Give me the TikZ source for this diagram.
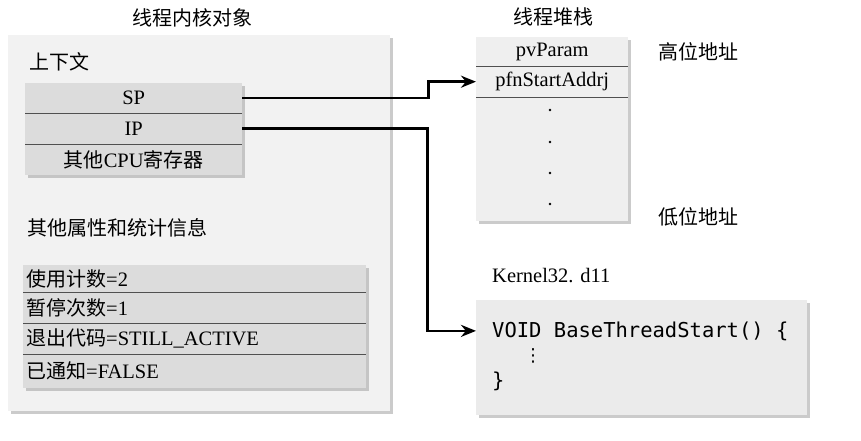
\documentclass[tikz,border=0pt]{standalone}
\usepackage{fontspec}
\setmainfont{Liberation Serif}
\newfontfamily\cjk{Noto Sans CJK SC}
\newfontfamily\codefont{DejaVu Sans Mono}
\newfontfamily\symfont{DejaVu Sans}
\usetikzlibrary{arrows.meta,shadows,calc}
\definecolor{outerfill}{HTML}{F2F2F2}
\definecolor{regfill}{HTML}{DCDCDC}
\definecolor{stackfill}{HTML}{EFEFEF}
\definecolor{codefill}{HTML}{EBEBEB}
\definecolor{sepline}{HTML}{505050}
\newcommand{\zh}[1]{{\cjk\fontsize{20}{24}\selectfont #1}}
\tikzset{
  txt/.style={inner sep=0pt, font=\fontsize{20.5}{24}\selectfont},
  cn/.style={inner sep=0pt, font=\cjk\fontsize{20}{24}\selectfont},
  panel/.style={draw=none, drop shadow={shadow xshift=3pt, shadow yshift=-3pt, fill=black!40}},
  rowbox/.style={inner sep=0pt, anchor=north west, font=\fontsize{20.5}{24}\selectfont},
  sep/.style={draw=sepline, line width=1pt},
  arr/.style={line width=2.6pt, -{Stealth[length=15pt, width=12pt]}},
  codetxt/.style={inner sep=0pt, anchor=base west, font=\codefont\fontsize{20.5}{24}\selectfont}
}
\begin{document}
\begin{tikzpicture}[x=1pt, y=-1pt]
\useasboundingbox (0,0) rectangle (861,441);
\fill[white] (0,0) rectangle (861,441);

% ---------- thread kernel object ----------
\node[cn] (ktitle) at (192,18) {线程内核对象};
\path[panel, fill=outerfill] (8,35) rectangle (390,411);
\node[cn, anchor=west] (ctx) at (29,62) {上下文};

\path[panel, fill=regfill] (25,83) rectangle (242,175);
\node[rowbox, minimum width=217pt, minimum height=30pt] (sp) at (25,83) {SP};
\node[rowbox, minimum width=217pt, minimum height=31pt] (ip) at (25,113) {IP};
\node[rowbox, minimum width=217pt, minimum height=31pt] (cpu) at (25,144) {\zh{其他}CPU\zh{寄存器}};
\draw[sep] (sp.south west) -- (sp.south east);
\draw[sep] (ip.south west) -- (ip.south east);

\node[cn, anchor=west] (other) at (27,228) {其他属性和统计信息};

\path[panel, fill=regfill] (23,265) rectangle (366,388);
\node[rowbox, minimum width=343pt, minimum height=27pt, text width=337pt, align=left] (r1) at (23,265) {\zh{使用计数}=2};
\node[rowbox, minimum width=343pt, minimum height=31pt, text width=337pt, align=left] (r2) at (23,292) {\zh{暂停次数}=1};
\node[rowbox, minimum width=343pt, minimum height=31pt, text width=337pt, align=left] (r3) at (23,323) {\zh{退出代码}=STILL\_ACTIVE};
\node[rowbox, minimum width=343pt, minimum height=34pt, text width=337pt, align=left] (r4) at (23,354) {\zh{已通知}=FALSE};
\draw[sep] (r1.south west) -- (r1.south east);
\draw[sep] (r2.south west) -- (r2.south east);
\draw[sep] (r3.south west) -- (r3.south east);

% ---------- thread stack ----------
\node[cn] (stitle) at (553,17) {线程堆栈};
\path[panel, fill=stackfill] (476,37) rectangle (628,221);
\node[rowbox, minimum width=152pt, minimum height=29pt] (pv) at (476,37) {pvParam};
\node[rowbox, minimum width=152pt, minimum height=31pt] (pfn) at (476,66) {pfnStartAddrj};
\draw[sep] (pv.south west) -- (pv.south east);
\draw[sep] (pfn.south west) -- (pfn.south east);
\foreach \yy in {110,142,173,204}
  \fill (550,\yy) circle (1.4pt);
\node[cn, anchor=west] (high) at (658,52) {高位地址};
\node[cn, anchor=west] (low) at (658,217) {低位地址};

% ---------- Kernel32.dll ----------
\node[txt, anchor=west] (k32) at (492,276) {Kernel32. d11};
\path[panel, fill=codefill] (476,300) rectangle (807,415);
\coordinate (codewest) at (476,357);
\node[codetxt] (c1) at (492,337) {VOID BaseThreadStart() \{};
\node[inner sep=0pt, font=\symfont\fontsize{18}{18}\selectfont] (c2) at (533,356) {⋮};
\node[codetxt] (c3) at (492,387) {\}};

% ---------- connectors ----------
\draw[arr] (sp.east) -- ++(186,0) |- (pfn.west);
\draw[arr] (ip.east) -- ++(185,0) |- (codewest |- c1.center);
\end{tikzpicture}
\end{document}
